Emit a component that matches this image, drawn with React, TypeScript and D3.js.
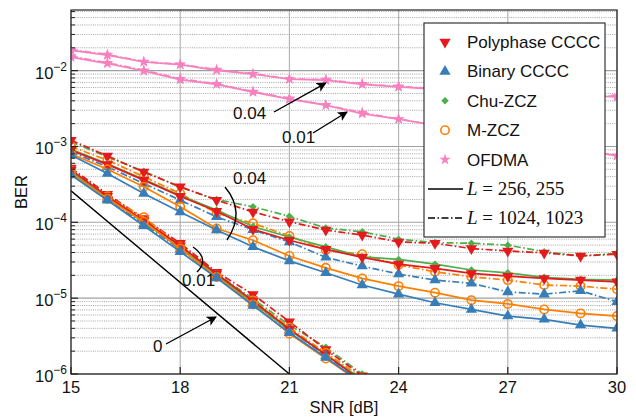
import React, { useRef, useEffect } from 'react';
import * as d3 from 'd3';

// SNR axis values
const snr = [15, 16, 17, 18, 19, 20, 21, 22, 23, 24, 25, 26, 27, 28, 29, 30];
const snrSteep = [15, 16, 17, 18, 19, 20, 21, 22, 23];
const xTicks = [15, 18, 21, 24, 27, 30];
const yTicks = [1e-6, 1e-5, 1e-4, 1e-3, 1e-2];
const yTickLabels = ['−6', '−5', '−4', '−3', '−2'];

// CFO 0.04, L = 256,255 (solid)
const polyS04 = [8.9e-4, 5.8e-4, 3.6e-4, 2.2e-4, 1.4e-4, 8.1e-5, 5.8e-5, 4.4e-5, 3.45e-5, 2.81e-5, 2.47e-5, 2.12e-5, 1.95e-5, 1.82e-5, 1.73e-5, 1.64e-5];
const binS04 = [7.7e-4, 4.4e-4, 2.4e-4, 1.37e-4, 7.9e-5, 4.75e-5, 3.1e-5, 2.16e-5, 1.49e-5, 1.13e-5, 8.7e-6, 7.1e-6, 5.8e-6, 5.26e-6, 4.42e-6, 4.0e-6];
const chuS04 = [9.2e-4, 5.9e-4, 3.7e-4, 2.25e-4, 1.45e-4, 8.8e-5, 6.4e-5, 4.75e-5, 3.5e-5, 3.24e-5, 2.81e-5, 2.35e-5, 2.16e-5, 1.88e-5, 1.77e-5, 1.73e-5];
const mzS04 = [8.0e-4, 5.0e-4, 2.95e-4, 1.6e-4, 8.3e-5, 5.8e-5, 3.6e-5, 2.51e-5, 1.82e-5, 1.44e-5, 1.18e-5, 9.4e-6, 8.4e-6, 7.1e-6, 6.3e-6, 5.8e-6];
// CFO 0.04, L = 1024,1023 (dash-dot)
const polyD04 = [1.21e-3, 7.5e-4, 4.6e-4, 2.95e-4, 1.96e-4, 1.37e-4, 1.02e-4, 7.9e-5, 6.8e-5, 5.5e-5, 5.3e-5, 4.5e-5, 4.2e-5, 3.95e-5, 3.6e-5, 3.8e-5];
const binD04 = [8.5e-4, 5.4e-4, 3.25e-4, 1.96e-4, 1.18e-4, 8.0e-5, 5.5e-5, 3.45e-5, 2.65e-5, 2.08e-5, 1.73e-5, 1.57e-5, 1.21e-5, 1.13e-5, 1.25e-5, 9.0e-6];
const chuD04 = [1.15e-3, 7.3e-4, 4.7e-4, 2.9e-4, 2.0e-4, 1.6e-4, 1.2e-4, 8.4e-5, 7.5e-5, 6.0e-5, 5.4e-5, 5.3e-5, 5.0e-5, 4.1e-5, 3.6e-5, 3.9e-5];
const mzD04 = [1.0e-3, 6.6e-4, 4.0e-4, 2.4e-4, 1.33e-4, 9.7e-5, 6.6e-5, 4.3e-5, 3.8e-5, 2.73e-5, 2.23e-5, 1.91e-5, 1.73e-5, 1.49e-5, 1.44e-5, 1.31e-5];

// CFO 0.01
const polyS01 = [4.9e-4, 2.2e-4, 1.05e-4, 4.9e-5, 2.1e-5, 9.2e-6, 3.9e-6, 1.8e-6, 8e-7];
const binS01 = [4.2e-4, 1.95e-4, 9.0e-5, 4.1e-5, 1.85e-5, 8.0e-6, 3.5e-6, 1.65e-6, 7.5e-7];
const chuS01 = [4.6e-4, 2.1e-4, 1.0e-4, 4.6e-5, 2.0e-5, 8.8e-6, 3.8e-6, 1.8e-6, 8.5e-7];
const mzS01 = [4.4e-4, 2.05e-4, 1.02e-4, 4.5e-5, 1.9e-5, 8.3e-6, 3.4e-6, 1.6e-6, 7.5e-7];
const polyD01 = [5.2e-4, 2.35e-4, 1.12e-4, 5.3e-5, 2.2e-5, 1.12e-5, 4.9e-6, 2.1e-6, 9.5e-7];
const binD01 = [4.5e-4, 2.05e-4, 9.5e-5, 4.4e-5, 1.95e-5, 8.6e-6, 3.8e-6, 1.75e-6, 8e-7];
const chuD01 = [5.0e-4, 2.25e-4, 1.1e-4, 5.0e-5, 2.1e-5, 9.8e-6, 4.4e-6, 2.25e-6, 1e-6];
const mzD01 = [4.8e-4, 2.2e-4, 1.17e-4, 4.8e-5, 2.0e-5, 9.3e-6, 4.1e-6, 1.9e-6, 9e-7];

// OFDMA
const ofdmaS04 = [0.0185, 0.016, 0.013, 0.012, 0.0101, 0.009, 0.0077, 0.0075, 0.0066, 0.0061, 0.0057, 0.0054, 0.0051, 0.0049, 0.0047, 0.0045];
const ofdmaD04 = [0.019, 0.0163, 0.0132, 0.0121, 0.0103, 0.0091, 0.0078, 0.0076, 0.0067, 0.0062, 0.0058, 0.0055, 0.0052, 0.0049, 0.0047, 0.0046];
const ofdmaS01 = [0.0151, 0.0124, 0.0099, 0.0076, 0.0066, 0.0052, 0.0042, 0.0035, 0.0027, 0.0023, 0.0019, 0.0016, 0.0013, 0.0011, 0.0009, 0.00075];
const ofdmaD01 = [0.0155, 0.0127, 0.0101, 0.0078, 0.0067, 0.0053, 0.0043, 0.0035, 0.0028, 0.0023, 0.0019, 0.0016, 0.0013, 0.0011, 0.0009, 0.00076];

// CFO 0 reference line
const zeroX = [15, 21];
const zeroY = [2.6e-4, 1e-6];

const RED = '#e41a1c';
const BLUE = '#377eb8';
const GREEN = '#4daf4a';
const ORANGE = '#ff7f00';
const PINK = '#f781bf';
const DASHDOT = '7,2.5,1.5,2.5';
const FONT = '"Liberation Sans", Arial, Helvetica, sans-serif';

const series = [
  { xs: snr, ys: ofdmaS04, color: PINK, mark: 'star', dash: null },
  { xs: snr, ys: ofdmaD04, color: PINK, mark: 'star', dash: DASHDOT },
  { xs: snr, ys: ofdmaS01, color: PINK, mark: 'star', dash: null },
  { xs: snr, ys: ofdmaD01, color: PINK, mark: 'star', dash: DASHDOT },
  { xs: snr, ys: chuD04, color: GREEN, mark: 'diamond', dash: DASHDOT },
  { xs: snr, ys: mzD04, color: ORANGE, mark: 'circle', dash: DASHDOT },
  { xs: snr, ys: binD04, color: BLUE, mark: 'up', dash: DASHDOT },
  { xs: snr, ys: polyD04, color: RED, mark: 'down', dash: DASHDOT },
  { xs: snr, ys: chuS04, color: GREEN, mark: 'diamond', dash: null },
  { xs: snr, ys: polyS04, color: RED, mark: 'down', dash: null },
  { xs: snr, ys: mzS04, color: ORANGE, mark: 'circle', dash: null },
  { xs: snr, ys: binS04, color: BLUE, mark: 'up', dash: null },
  { xs: snrSteep, ys: chuD01, color: GREEN, mark: 'diamond', dash: DASHDOT },
  { xs: snrSteep, ys: polyD01, color: RED, mark: 'down', dash: DASHDOT },
  { xs: snrSteep, ys: mzD01, color: ORANGE, mark: 'circle', dash: DASHDOT },
  { xs: snrSteep, ys: binD01, color: BLUE, mark: 'up', dash: DASHDOT },
  { xs: snrSteep, ys: chuS01, color: GREEN, mark: 'diamond', dash: null },
  { xs: snrSteep, ys: polyS01, color: RED, mark: 'down', dash: null },
  { xs: snrSteep, ys: mzS01, color: ORANGE, mark: 'circle', dash: null },
  { xs: snrSteep, ys: binS01, color: BLUE, mark: 'up', dash: null },
];

const legendItems = [
  { label: 'Polyphase CCCC', color: RED, mark: 'down' },
  { label: 'Binary CCCC', color: BLUE, mark: 'up' },
  { label: 'Chu-ZCZ', color: GREEN, mark: 'diamond' },
  { label: 'M-ZCZ', color: ORANGE, mark: 'circle' },
  { label: 'OFDMA', color: PINK, mark: 'star' },
];

const drawMark = (g, mark, color, cx, cy) => {
  if (mark === 'circle') {
    g.append('circle').attr('cx', cx).attr('cy', cy).attr('r', 4.2)
      .attr('fill', 'none').attr('stroke', color).attr('stroke-width', 1.6);
    return;
  }
  let type = d3.symbolTriangle, size = 55, rot = 0;
  if (mark === 'down') rot = 180;
  if (mark === 'diamond') { type = d3.symbolSquare; size = 28; rot = 45; }
  if (mark === 'star') { type = d3.symbolStar; size = 40; }
  g.append('path')
    .attr('d', d3.symbol().type(type).size(size)())
    .attr('transform', `translate(${cx},${cy}) rotate(${rot})`)
    .attr('fill', color);
};

const App = () => {
  const svgRef = useRef(null);

  useEffect(() => {
    const svg = d3.select(svgRef.current);
    svg.selectAll('*').remove();

    const left = 71, right = 617, top = 10, bottom = 374;
    const x = d3.scaleLinear().domain([15, 30]).range([left, right]);
    const y = d3.scaleLog().domain([1e-6, 0.063]).range([bottom, top]);

    const defs = svg.append('defs');
    defs.append('clipPath').attr('id', 'plotclip')
      .append('rect').attr('x', left).attr('y', top)
      .attr('width', right - left).attr('height', bottom - top);
    defs.append('marker').attr('id', 'arrow').attr('viewBox', '0 0 10 10')
      .attr('refX', 9).attr('refY', 5).attr('markerWidth', 10).attr('markerHeight', 10)
      .attr('markerUnits', 'userSpaceOnUse').attr('orient', 'auto')
      .append('path').attr('d', 'M0,0L10,5L0,10L2.5,5Z').attr('fill', '#000');

    // grid
    const grid = svg.append('g');
    const minor = [];
    yTicks.forEach((t) => {
      for (let k = 2; k <= 9; k++) if (t * k <= 0.063) minor.push(t * k);
    });
    grid.selectAll('.minor').data(minor).enter().append('line')
      .attr('x1', left).attr('x2', right)
      .attr('y1', (d) => y(d)).attr('y2', (d) => y(d))
      .attr('stroke', '#9a9a9a').attr('stroke-width', 0.9).attr('stroke-dasharray', '1,1.2');
    grid.selectAll('.major').data(yTicks).enter().append('line')
      .attr('x1', left).attr('x2', right)
      .attr('y1', (d) => y(d)).attr('y2', (d) => y(d))
      .attr('stroke', '#a0a0a0').attr('stroke-width', 1.1);
    grid.selectAll('.vert').data(xTicks).enter().append('line')
      .attr('x1', (d) => x(d)).attr('x2', (d) => x(d))
      .attr('y1', top).attr('y2', bottom)
      .attr('stroke', '#b0b0b0').attr('stroke-width', 1.1);

    // data
    const plot = svg.append('g').attr('clip-path', 'url(#plotclip)');
    const line = d3.line().x((d) => x(d[0])).y((d) => y(d[1]));
    plot.append('path')
      .attr('d', line(zeroX.map((v, i) => [v, zeroY[i]])))
      .attr('fill', 'none').attr('stroke', '#000').attr('stroke-width', 1.4);

    series.forEach((s) => {
      const pts = s.xs.map((v, i) => [v, s.ys[i]]);
      plot.append('path')
        .attr('d', line(pts))
        .attr('fill', 'none')
        .attr('stroke', s.color)
        .attr('stroke-width', 1.7)
        .attr('stroke-dasharray', s.dash);
      pts.forEach((p) => drawMark(plot, s.mark, s.color, x(p[0]), y(p[1])));
    });

    // frame and ticks
    const axes = svg.append('g');
    axes.append('rect').attr('x', left).attr('y', top)
      .attr('width', right - left).attr('height', bottom - top)
      .attr('fill', 'none').attr('stroke', '#222').attr('stroke-width', 1.2);
    yTicks.forEach((t) => {
      axes.append('line').attr('x1', left).attr('x2', left + 7)
        .attr('y1', y(t)).attr('y2', y(t)).attr('stroke', '#222').attr('stroke-width', 1.2);
    });
    minor.forEach((t) => {
      axes.append('line').attr('x1', left).attr('x2', left + 4)
        .attr('y1', y(t)).attr('y2', y(t)).attr('stroke', '#222').attr('stroke-width', 1);
    });
    xTicks.forEach((t) => {
      axes.append('line').attr('x1', x(t)).attr('x2', x(t))
        .attr('y1', bottom).attr('y2', bottom - 7).attr('stroke', '#222').attr('stroke-width', 1.2);
      axes.append('text').attr('x', x(t)).attr('y', bottom + 19)
        .attr('text-anchor', 'middle').attr('font-family', FONT).attr('font-size', 16.5)
        .attr('fill', '#111').text(t);
    });
    yTicks.forEach((t, i) => {
      const tx = axes.append('text').attr('x', left - 4).attr('y', y(t) + 8)
        .attr('text-anchor', 'end').attr('font-family', FONT).attr('font-size', 16.5)
        .attr('fill', '#111');
      tx.append('tspan').text('10');
      tx.append('tspan').attr('dy', -8).attr('font-size', 12).text(yTickLabels[i]);
    });

    axes.append('text').attr('x', (left + right) / 2).attr('y', 413)
      .attr('text-anchor', 'middle').attr('font-family', FONT).attr('font-size', 16.5)
      .attr('fill', '#111').text('SNR [dB]');
    axes.append('text').attr('transform', `translate(27,${(top + bottom) / 2}) rotate(-90)`)
      .attr('text-anchor', 'middle').attr('font-family', FONT).attr('font-size', 16.5)
      .attr('fill', '#111').text('BER');

    // annotations
    const ann = svg.append('g').attr('font-family', FONT).attr('font-size', 17).attr('fill', '#111');
    const arrow = (x1, y1, x2, y2) => ann.append('line')
      .attr('x1', x1).attr('y1', y1).attr('x2', x2).attr('y2', y2)
      .attr('stroke', '#000').attr('stroke-width', 1.4).attr('marker-end', 'url(#arrow)');
    ann.append('text').attr('x', 233).attr('y', 119).text('0.04');
    arrow(274, 112, x(22), y(ofdmaS04[7]) + 3);
    ann.append('text').attr('x', 282).attr('y', 143).text('0.01');
    arrow(313, 133, 347, 112);
    ann.append('text').attr('x', 233).attr('y', 184).text('0.04');
    ann.append('path').attr('d', 'M225,187 Q246,212 227,240')
      .attr('fill', 'none').attr('stroke', '#000').attr('stroke-width', 1.4);
    ann.append('text').attr('x', 182).attr('y', 286).text('0.01');
    ann.append('path').attr('d', 'M193,247 Q210,259 197,272')
      .attr('fill', 'none').attr('stroke', '#000').attr('stroke-width', 1.4);
    ann.append('text').attr('x', 153).attr('y', 352).text('0');
    arrow(166, 344, 216, 317);

    // legend
    const lg = svg.append('g');
    lg.append('rect').attr('x', 424).attr('y', 23).attr('width', 181).attr('height', 214)
      .attr('fill', '#fff').attr('stroke', '#222').attr('stroke-width', 1.1);
    legendItems.forEach((d, i) => {
      const cy = 42 + i * 29.4;
      drawMark(lg, d.mark, d.color, 445, cy);
      lg.append('text').attr('x', 467).attr('y', cy + 6)
        .attr('font-family', FONT).attr('font-size', 17).attr('fill', '#111').text(d.label);
    });
    [['256, 255', null], ['1024, 1023', DASHDOT]].forEach((d, i) => {
      const cy = 189 + i * 29;
      lg.append('line').attr('x1', 428).attr('x2', 463).attr('y1', cy).attr('y2', cy)
        .attr('stroke', '#000').attr('stroke-width', 1.4).attr('stroke-dasharray', d[1]);
      const t = lg.append('text').attr('x', 467).attr('y', cy + 6)
        .attr('font-family', '"Liberation Serif", "DejaVu Serif", serif').attr('font-size', 19)
        .attr('fill', '#111');
      t.append('tspan').attr('font-style', 'italic').text('L');
      t.append('tspan').text(' = ' + d[0]);
    });
  }, []);

  return (
    <svg ref={svgRef} width={636} height={418}
      style={{ position: 'absolute', left: 0, top: 0, background: '#fff' }} />
  );
};

export default App;
